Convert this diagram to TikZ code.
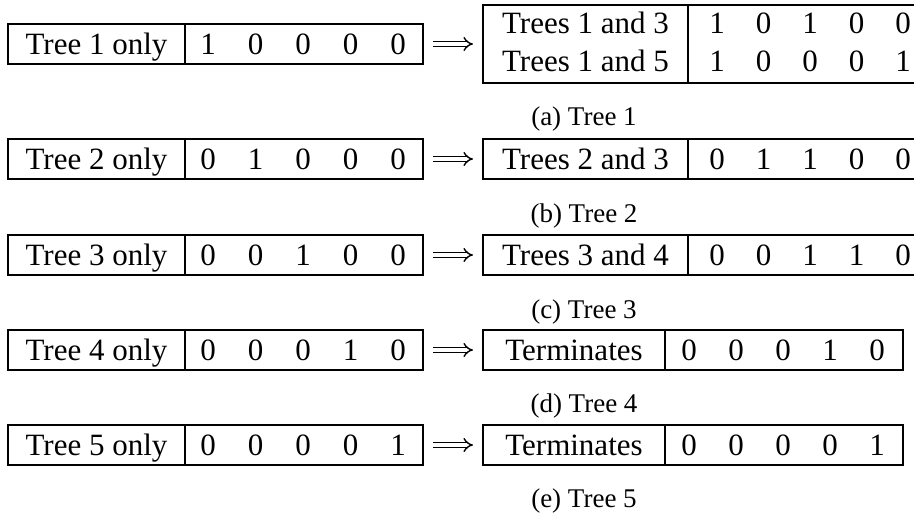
\documentclass[tikz,border=0pt]{standalone}
\usepackage{fontspec}
\setmainfont{Liberation Serif}
\usetikzlibrary{arrows.meta}
\begin{document}
\begin{tikzpicture}[x=1pt,y=-1pt,
  cell/.style={draw, line width=1.1pt, inner sep=0pt, outer sep=0pt,
    minimum height=40pt, anchor=north west},
  txt/.style={inner sep=0pt, text height=20pt, text depth=0pt,
    font=\fontsize{31}{37}\selectfont},
  captxt/.style={inner sep=0pt, text height=18pt, text depth=0pt,
    font=\fontsize{27}{32}\selectfont},
  thenarrow/.style={double, double distance=3.4pt, line width=1.4pt,
    -{Implies}, shorten <=10pt, shorten >=10pt}]
\useasboundingbox (0,0) rectangle (914,512);
\clip (0,0) rectangle (914,512);

% ---- (a) Tree 1
\node[cell, minimum width=177pt] (a-lab) at (8,24) {};
\node[cell, minimum width=238pt] (a-bits) at (a-lab.north east) {};
\node[txt] (a-name) at (96.5,44) {Tree 1 only};
\foreach \d [count=\i] in {1,0,0,0,0}
  \node[txt] (a-d\i) at ({208+47.5*(\i-1)},44) {\d};
\node[cell, minimum width=205pt, minimum height=78pt] (a-out) at (483,5) {};
\node[cell, minimum width=238pt, minimum height=78pt] (a-outbits) at (a-out.north east) {};
\node[txt] (a-n1) at (585.5,23.5) {Trees 1 and 3};
\node[txt] (a-n2) at (585.5,61.5) {Trees 1 and 5};
\foreach \d [count=\i] in {1,0,1,0,0}
  \node[txt] (a-p\i) at ({717+46.5*(\i-1)},23.5) {\d};
\foreach \d [count=\i] in {1,0,0,0,1}
  \node[txt] (a-q\i) at ({717+46.5*(\i-1)},61.5) {\d};
\draw[thenarrow] (a-bits.east) -- (a-out.west);
\node[captxt] (a-cap) at (584,116) {(a) Tree 1};

% ---- (b) Tree 2
\node[cell, minimum width=177pt] (b-lab) at (8,139) {};
\node[cell, minimum width=238pt] (b-bits) at (b-lab.north east) {};
\node[txt] (b-name) at (96.5,159) {Tree 2 only};
\foreach \d [count=\i] in {0,1,0,0,0}
  \node[txt] (b-d\i) at ({208+47.5*(\i-1)},159) {\d};
\node[cell, minimum width=205pt] (b-out) at (483,139) {};
\node[cell, minimum width=238pt] (b-outbits) at (b-out.north east) {};
\node[txt] (b-n1) at (585.5,159) {Trees 2 and 3};
\foreach \d [count=\i] in {0,1,1,0,0}
  \node[txt] (b-p\i) at ({717+46.5*(\i-1)},159) {\d};
\draw[thenarrow] (b-bits.east) -- (b-out.west);
\node[captxt] (b-cap) at (584,213) {(b) Tree 2};

% ---- (c) Tree 3
\node[cell, minimum width=177pt] (c-lab) at (8,235) {};
\node[cell, minimum width=238pt] (c-bits) at (c-lab.north east) {};
\node[txt] (c-name) at (96.5,255) {Tree 3 only};
\foreach \d [count=\i] in {0,0,1,0,0}
  \node[txt] (c-d\i) at ({208+47.5*(\i-1)},255) {\d};
\node[cell, minimum width=205pt] (c-out) at (483,235) {};
\node[cell, minimum width=238pt] (c-outbits) at (c-out.north east) {};
\node[txt] (c-n1) at (585.5,255) {Trees 3 and 4};
\foreach \d [count=\i] in {0,0,1,1,0}
  \node[txt] (c-p\i) at ({717+46.5*(\i-1)},255) {\d};
\draw[thenarrow] (c-bits.east) -- (c-out.west);
\node[captxt] (c-cap) at (584,309) {(c) Tree 3};

% ---- (d) Tree 4
\node[cell, minimum width=177pt] (d-lab) at (8,330) {};
\node[cell, minimum width=238pt] (d-bits) at (d-lab.north east) {};
\node[txt] (d-name) at (96.5,350) {Tree 4 only};
\foreach \d [count=\i] in {0,0,0,1,0}
  \node[txt] (d-d\i) at ({208+47.5*(\i-1)},350) {\d};
\node[cell, minimum width=182pt] (d-out) at (483,330) {};
\node[cell, minimum width=238pt] (d-outbits) at (d-out.north east) {};
\node[txt] (d-n1) at (574,350) {Terminates};
\foreach \d [count=\i] in {0,0,0,1,0}
  \node[txt] (d-p\i) at ({689+47*(\i-1)},350) {\d};
\draw[thenarrow] (d-bits.east) -- (d-out.west);
\node[captxt] (d-cap) at (584,403) {(d) Tree 4};

% ---- (e) Tree 5
\node[cell, minimum width=177pt] (e-lab) at (8,425) {};
\node[cell, minimum width=238pt] (e-bits) at (e-lab.north east) {};
\node[txt] (e-name) at (96.5,445) {Tree 5 only};
\foreach \d [count=\i] in {0,0,0,0,1}
  \node[txt] (e-d\i) at ({208+47.5*(\i-1)},445) {\d};
\node[cell, minimum width=182pt] (e-out) at (483,425) {};
\node[cell, minimum width=238pt] (e-outbits) at (e-out.north east) {};
\node[txt] (e-n1) at (574,445) {Terminates};
\foreach \d [count=\i] in {0,0,0,0,1}
  \node[txt] (e-p\i) at ({689+47*(\i-1)},445) {\d};
\draw[thenarrow] (e-bits.east) -- (e-out.west);
\node[captxt] (e-cap) at (584,498) {(e) Tree 5};
\end{tikzpicture}
\end{document}
